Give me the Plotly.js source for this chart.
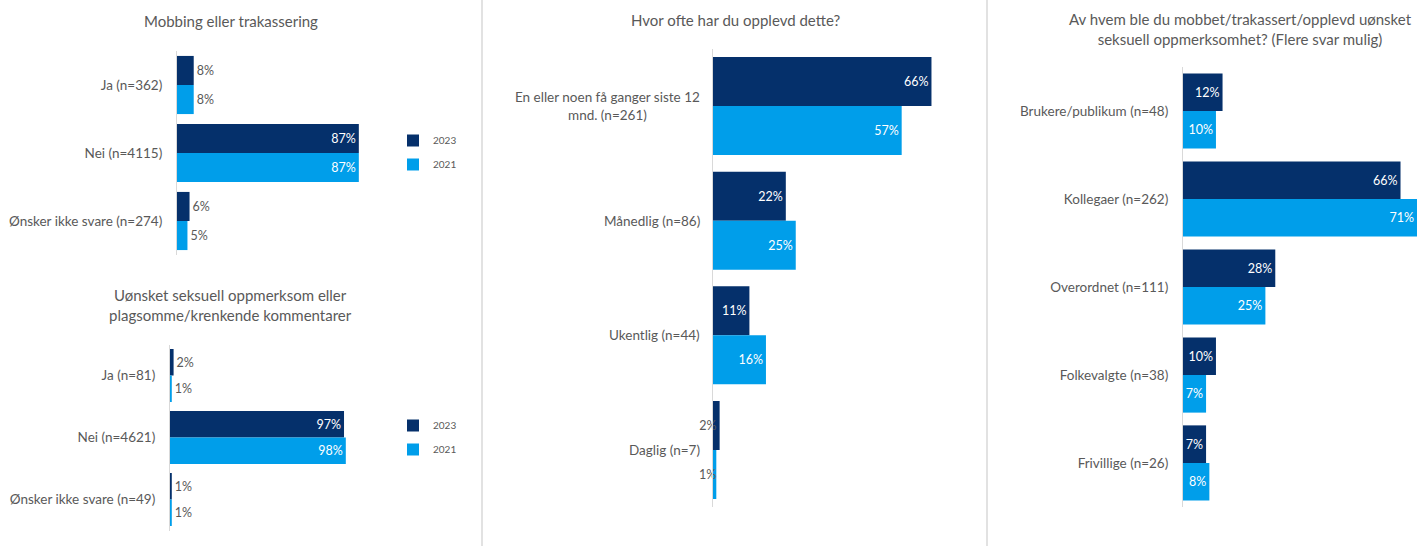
<!DOCTYPE html>
<html>
<head>
<meta charset="utf-8">
<script src="https://cdn.plot.ly/plotly-3.0.1.min.js"></script>
<style>html,body{margin:0;padding:0;background:#fff;}#chart{width:1417px;height:546px;}</style>
</head>
<body>
<div id="chart"></div>
<script>
// ---- Data ----
var seriesNames = ['2023', '2021'];

var titleMobbing = 'Mobbing eller trakassering';
var catsMobbing = ['Ja (n=362)', 'Nei (n=4115)', 'Ønsker ikke svare (n=274)'];
var mobbing2023 = [8, 87, 6];
var mobbing2021 = [8, 87, 5];

var titleSeksuell = 'Uønsket seksuell oppmerksom eller<br>plagsomme/krenkende kommentarer';
var catsSeksuell = ['Ja (n=81)', 'Nei (n=4621)', 'Ønsker ikke svare (n=49)'];
var seksuell2023 = [2, 97, 1];
var seksuell2021 = [1, 98, 1];

var titleHvorOfte = 'Hvor ofte har du opplevd dette?';
var catsHvorOfte = ['En eller noen få ganger siste 12<br>mnd. (n=261)', 'Månedlig (n=86)', 'Ukentlig (n=44)', 'Daglig (n=7)'];
var hvorOfte2023 = [66, 22, 11, 2];
var hvorOfte2021 = [57, 25, 16, 1];

var titleHvem = 'Av hvem ble du mobbet/trakassert/opplevd uønsket<br>seksuell oppmerksomhet? (Flere svar mulig)';
var catsHvem = ['Brukere/publikum (n=48)', 'Kollegaer (n=262)', 'Overordnet (n=111)', 'Folkevalgte (n=38)', 'Frivillige (n=26)'];
var hvem2023 = [12, 66, 28, 10, 7];
var hvem2021 = [10, 71, 25, 7, 8];

// ---- Style ----
var W = 1417, H = 546;
var C2023 = '#05306B', C2021 = '#009EEA';
var GREY = '#595959', WHITE = '#FFFFFF';
var FONT = 'Lato, "Open Sans", sans-serif';
function px(x) { return x / W; }
function py(y) { return 1 - y / H; }

function insideOrOutside(vals, minInside) {
  return vals.map(function (v) { return v >= minInside ? 'inside' : 'outside'; });
}
function colorsFor(vals, minInside, smallColor) {
  return vals.map(function (v) { return v >= minInside ? WHITE : smallColor; });
}

function barTrace(name, vals, cats, color, xa, ya, pos, cols, legendId) {
  return {
    type: 'bar', orientation: 'h', name: name,
    x: vals, y: cats, xaxis: xa, yaxis: ya,
    marker: { color: color, line: { width: 0 } },
    texttemplate: '%{x}%', textposition: pos,
    insidetextanchor: 'end', constraintext: 'none', textangle: 0,
    textfont: { family: FONT, size: 12.5, color: cols },
    cliponaxis: false,
    hoverinfo: 'skip',
    showlegend: !!legendId, legend: legendId || 'legend',
    legendgroup: (legendId || 'none') + name
  };
}

var traces = [
  barTrace(seriesNames[0], mobbing2023, catsMobbing, C2023, 'x', 'y',
    insideOrOutside(mobbing2023, 20), colorsFor(mobbing2023, 20, GREY), 'legend'),
  barTrace(seriesNames[1], mobbing2021, catsMobbing, C2021, 'x', 'y',
    insideOrOutside(mobbing2021, 20), colorsFor(mobbing2021, 20, GREY), 'legend'),
  barTrace(seriesNames[0], seksuell2023, catsSeksuell, C2023, 'x2', 'y2',
    insideOrOutside(seksuell2023, 20), colorsFor(seksuell2023, 20, GREY), 'legend2'),
  barTrace(seriesNames[1], seksuell2021, catsSeksuell, C2021, 'x2', 'y2',
    insideOrOutside(seksuell2021, 20), colorsFor(seksuell2021, 20, GREY), 'legend2'),
  barTrace(seriesNames[0], hvorOfte2023, catsHvorOfte, C2023, 'x3', 'y3',
    'inside', colorsFor(hvorOfte2023, 5, GREY), null),
  barTrace(seriesNames[1], hvorOfte2021, catsHvorOfte, C2021, 'x3', 'y3',
    'inside', colorsFor(hvorOfte2021, 5, GREY), null),
  barTrace(seriesNames[0], hvem2023, catsHvem, C2023, 'x4', 'y4',
    'inside', colorsFor(hvem2023, 0, GREY), null),
  barTrace(seriesNames[1], hvem2021, catsHvem, C2021, 'x4', 'y4',
    'inside', colorsFor(hvem2021, 0, GREY), null)
];

function xAxis(d0, d1, maxV, anchor) {
  return { domain: [px(d0), px(d1)], range: [0, maxV], visible: false, fixedrange: true, anchor: anchor };
}
function yAxis(top, bottom, anchor, showLabels, lw) {
  return {
    domain: [py(bottom), py(top)], anchor: anchor, type: 'category',
    autorange: 'reversed', showline: true, linecolor: '#D9D9D9', linewidth: lw || 1,
    showgrid: false, zeroline: false, ticks: 'outside', ticklen: 11, tickcolor: 'rgba(0,0,0,0)',
    showticklabels: showLabels,
    tickfont: { family: FONT, size: 13.5, color: GREY }, fixedrange: true
  };
}

var annotations = [];
function title(text, cx, cy) {
  annotations.push({ text: text, xref: 'paper', yref: 'paper', x: px(cx), y: py(cy),
    xanchor: 'center', yanchor: 'middle', showarrow: false, align: 'center',
    font: { family: FONT, size: 15, color: GREY } });
}
title(titleMobbing, 231, 21);
title(titleSeksuell, 230, 305);
title(titleHvorOfte, 735, 20);
title(titleHvem, 1240, 29);

// centred multi-line category labels for the middle panel
catsHvorOfte.forEach(function (c) {
  annotations.push({ text: c, xref: 'paper', yref: 'y3', x: px(702), y: c,
    xanchor: 'right', yanchor: 'middle', showarrow: false, align: 'center',
    font: { family: FONT, size: 13.5, color: GREY } });
});

var legendStyle = function (topPx) {
  return { x: px(393), y: py(topPx), xanchor: 'left', yanchor: 'top', bgcolor: 'rgba(0,0,0,0)',
    font: { family: FONT, size: 10, color: GREY }, itemwidth: 30, tracegroupgap: 5,
    traceorder: 'grouped' };
};

var layout = {
  width: W, height: H,
  margin: { l: 0, r: 0, t: 0, b: 0, pad: 0 },
  paper_bgcolor: '#FFFFFF', plot_bgcolor: 'rgba(0,0,0,0)',
  barmode: 'group', bargap: 0.145, bargroupgap: 0,
  font: { family: FONT, color: GREY },
  xaxis: xAxis(177, 386, 100, 'y'),
  yaxis: yAxis(51, 255, 'x', true),
  xaxis2: xAxis(170, 349.4, 100, 'y2'),
  yaxis2: yAxis(344.5, 530.5, 'x2', true),
  xaxis3: xAxis(713, 980, 80.66, 'y3'),
  yaxis3: yAxis(48.7, 507.3, 'x3', false, 1.5),
  xaxis4: xAxis(1183, 1417, 71, 'y4'),
  yaxis4: yAxis(67, 507, 'x4', true),
  legend: legendStyle(126),
  legend2: legendStyle(411),
  annotations: annotations,
  shapes: [
    { type: 'line', xref: 'paper', yref: 'paper', x0: px(482), x1: px(482), y0: 0, y1: 1, line: { color: '#D9D9D9', width: 1.5 } },
    { type: 'line', xref: 'paper', yref: 'paper', x0: px(987), x1: px(987), y0: 0, y1: 1, line: { color: '#D9D9D9', width: 1.5 } }
  ]
};

Plotly.newPlot('chart', traces, layout, { staticPlot: true, displayModeBar: false });
</script>
</body>
</html>
